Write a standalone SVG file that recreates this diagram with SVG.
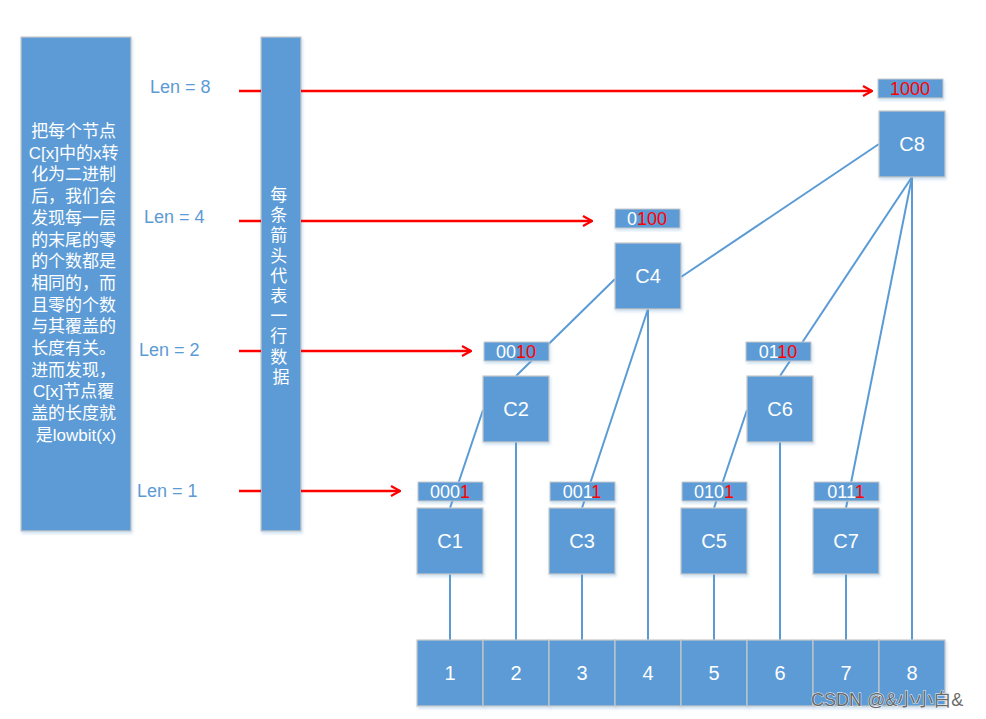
<svg xmlns="http://www.w3.org/2000/svg" width="986" height="719" viewBox="0 0 986 719">
<style>
.box{fill:#5B9BD5;stroke:#C9C9C9;stroke-width:1.2}
.lbl{fill:#5B9BD5;stroke:#C9C9C9;stroke-width:1}
.t{font-family:"Liberation Sans",Arial,sans-serif;fill:#FFFFFF;text-anchor:middle}
.big{font-size:20px}
.bin{font-size:18px}
.r{fill:#FF0000}
.len{font-family:"Liberation Sans",Arial,sans-serif;font-size:18px;fill:#5B9BD5}
.cn{font-family:"Liberation Sans","Noto Sans CJK SC",sans-serif;font-size:17px;fill:#FFFFFF;text-anchor:middle}
.conn line{stroke:#5B9BD5;stroke-width:2;fill:none}
.arr line{stroke:#FF0000;stroke-width:2.5}
</style>
<defs>
<filter id="sh" x="-10%" y="-10%" width="130%" height="130%">
<feDropShadow dx="1" dy="2" stdDeviation="1.5" flood-color="#5B9BD5" flood-opacity="0.3"/>
</filter>
<marker id="ah" viewBox="0 0 12 12" refX="11" refY="6" markerWidth="12" markerHeight="12" markerUnits="userSpaceOnUse" orient="auto">
<polyline points="2,1 11,6 2,11" fill="none" stroke="#FF0000" stroke-width="2.2"/>
</marker>
</defs>
<rect width="986" height="719" fill="#FFFFFF"/>

<g id="explain">
<rect class="box" x="21" y="37" width="110" height="494" filter="url(#sh)"/>
<text class="cn">
<tspan x="76" y="137">把每个节点</tspan>
<tspan x="76" y="158.7">C[x]中的x转</tspan>
<tspan x="76" y="180.4">化为二进制</tspan>
<tspan x="76" y="202.1">后，我们会</tspan>
<tspan x="76" y="223.8">发现每一层</tspan>
<tspan x="76" y="245.5">的末尾的零</tspan>
<tspan x="76" y="267.2">的个数都是</tspan>
<tspan x="76" y="288.9">相同的，而</tspan>
<tspan x="76" y="310.6">且零的个数</tspan>
<tspan x="76" y="332.3">与其覆盖的</tspan>
<tspan x="76" y="354">长度有关。</tspan>
<tspan x="76" y="375.7">进而发现，</tspan>
<tspan x="76" y="397.4">C[x]节点覆</tspan>
<tspan x="76" y="419.1">盖的长度就</tspan>
<tspan x="76" y="440.8">是lowbit(x)</tspan>
</text>
</g>

<g id="legend-bar">
<rect class="box" x="261" y="37" width="40" height="494" filter="url(#sh)"/>
<text class="cn" style="font-size:17px">
<tspan x="281" y="201">每</tspan>
<tspan x="281" y="221.2">条</tspan>
<tspan x="281" y="241.4">箭</tspan>
<tspan x="281" y="261.6">头</tspan>
<tspan x="281" y="281.8">代</tspan>
<tspan x="281" y="302">表</tspan>
<tspan x="281" y="322.2">一</tspan>
<tspan x="281" y="342.4">行</tspan>
<tspan x="281" y="362.6">数</tspan>
<tspan x="281" y="382.8">据</tspan>
</text>
</g>

<g id="len-labels">
<text class="len" x="150" y="93">Len = 8</text>
<text class="len" x="144" y="223">Len = 4</text>
<text class="len" x="139" y="356">Len = 2</text>
<text class="len" x="137" y="497">Len = 1</text>
</g>

<g class="arr" id="arrows">
<line x1="239" y1="91" x2="261" y2="91"/>
<line x1="301" y1="91" x2="872" y2="91" marker-end="url(#ah)"/>
<line x1="239" y1="221" x2="261" y2="221"/>
<line x1="301" y1="221" x2="592" y2="221" marker-end="url(#ah)"/>
<line x1="239" y1="351" x2="261" y2="351"/>
<line x1="301" y1="351" x2="471" y2="351" marker-end="url(#ah)"/>
<line x1="239" y1="491" x2="261" y2="491"/>
<line x1="301" y1="491" x2="400" y2="491" marker-end="url(#ah)"/>
</g>

<g class="conn" id="connectors">
<line x1="450" y1="574" x2="450" y2="640"/>
<line x1="582" y1="574" x2="582" y2="640"/>
<line x1="714" y1="574" x2="714" y2="640"/>
<line x1="846" y1="574" x2="846" y2="640"/>
<line x1="516" y1="442" x2="516" y2="640"/>
<line x1="648" y1="309" x2="648" y2="640"/>
<line x1="780" y1="442" x2="780" y2="640"/>
<line x1="912" y1="177" x2="912" y2="640"/>
<line x1="450" y1="508" x2="483" y2="410"/>
<line x1="714" y1="508" x2="747" y2="410"/>
<line x1="582" y1="508" x2="648" y2="309"/>
<line x1="846" y1="508" x2="912" y2="177"/>
<line x1="516" y1="376" x2="615" y2="279"/>
<line x1="780" y1="376" x2="912" y2="177"/>
<line x1="681" y1="277" x2="879" y2="144"/>
</g>

<g id="array">
<rect class="box" x="417" y="640" width="66" height="66" filter="url(#sh)"/>
<rect class="box" x="483" y="640" width="66" height="66" filter="url(#sh)"/>
<rect class="box" x="549" y="640" width="66" height="66" filter="url(#sh)"/>
<rect class="box" x="615" y="640" width="66" height="66" filter="url(#sh)"/>
<rect class="box" x="681" y="640" width="66" height="66" filter="url(#sh)"/>
<rect class="box" x="747" y="640" width="66" height="66" filter="url(#sh)"/>
<rect class="box" x="813" y="640" width="66" height="66" filter="url(#sh)"/>
<rect class="box" x="879" y="640" width="66" height="66" filter="url(#sh)"/>
<text class="t big" x="450" y="680">1</text>
<text class="t big" x="516" y="680">2</text>
<text class="t big" x="582" y="680">3</text>
<text class="t big" x="648" y="680">4</text>
<text class="t big" x="714" y="680">5</text>
<text class="t big" x="780" y="680">6</text>
<text class="t big" x="846" y="680">7</text>
<text class="t big" x="912" y="680">8</text>
</g>

<g id="C1">
<rect class="box" x="417" y="508" width="66" height="66" filter="url(#sh)"/>
<text class="t big" x="450" y="548">C1</text>
<rect class="lbl" x="418" y="482" width="65" height="19" filter="url(#sh)"/>
<text class="t bin" x="450" y="498">000<tspan class="r">1</tspan></text>
</g>
<g id="C3">
<rect class="box" x="549" y="508" width="66" height="66" filter="url(#sh)"/>
<text class="t big" x="582" y="548">C3</text>
<rect class="lbl" x="550" y="482" width="65" height="19" filter="url(#sh)"/>
<text class="t bin" x="582" y="498">001<tspan class="r">1</tspan></text>
</g>
<g id="C5">
<rect class="box" x="681" y="508" width="66" height="66" filter="url(#sh)"/>
<text class="t big" x="714" y="548">C5</text>
<rect class="lbl" x="682" y="482" width="65" height="19" filter="url(#sh)"/>
<text class="t bin" x="714" y="498">010<tspan class="r">1</tspan></text>
</g>
<g id="C7">
<rect class="box" x="813" y="508" width="66" height="66" filter="url(#sh)"/>
<text class="t big" x="846" y="548">C7</text>
<rect class="lbl" x="814" y="482" width="65" height="19" filter="url(#sh)"/>
<text class="t bin" x="846" y="498">011<tspan class="r">1</tspan></text>
</g>
<g id="C2">
<rect class="box" x="483" y="376" width="66" height="66" filter="url(#sh)"/>
<text class="t big" x="516" y="416">C2</text>
<rect class="lbl" x="484" y="342" width="65" height="19" filter="url(#sh)"/>
<text class="t bin" x="516" y="358">00<tspan class="r">10</tspan></text>
</g>
<g id="C6">
<rect class="box" x="747" y="376" width="66" height="66" filter="url(#sh)"/>
<text class="t big" x="780" y="416">C6</text>
<rect class="lbl" x="746" y="342" width="65" height="19" filter="url(#sh)"/>
<text class="t bin" x="778" y="358">01<tspan class="r">10</tspan></text>
</g>
<g id="C4">
<rect class="box" x="615" y="243" width="66" height="66" filter="url(#sh)"/>
<text class="t big" x="648" y="283">C4</text>
<rect class="lbl" x="615" y="209" width="65" height="19" filter="url(#sh)"/>
<text class="t bin" x="647" y="225">0<tspan class="r">100</tspan></text>
</g>
<g id="C8">
<rect class="box" x="879" y="111" width="66" height="66" filter="url(#sh)"/>
<text class="t big" x="912" y="151">C8</text>
<rect class="lbl" x="878" y="79" width="65" height="19" filter="url(#sh)"/>
<text class="t bin" x="910" y="95"><tspan class="r">1000</tspan></text>
</g>

<text x="811" y="706" style="font-family:'Liberation Sans','Noto Sans CJK SC',sans-serif;font-size:18px;fill:#6a6a6a;stroke:#ffffff;stroke-width:0.8;paint-order:stroke">CSDN @&amp;小小白&amp;</text>
</svg>
